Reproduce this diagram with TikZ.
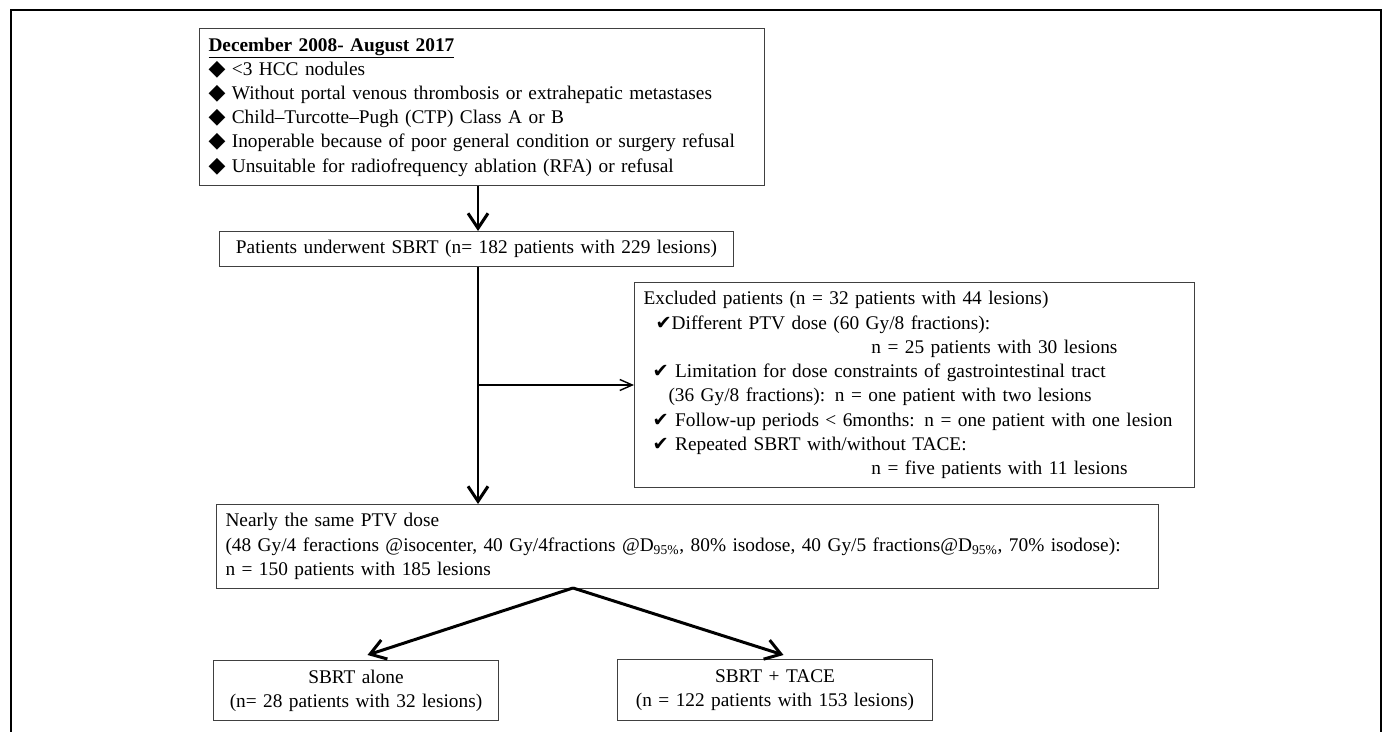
\documentclass[tikz,border=0pt]{standalone}
\usepackage{fontspec}
\setmainfont{Liberation Serif}
\newfontfamily\symfont{DejaVu Sans}
\usetikzlibrary{arrows.meta}
\newcommand\chk{{\symfont\fontsize{11}{11}\selectfont ✔}}
\newcommand\dmd{{\symfont\fontsize{12.5}{12.5}\selectfont ◆}}
\tikzset{
  box/.style={draw=black!75, line width=0.6pt, anchor=north west, inner xsep=0.18cm, inner ysep=0pt, font=\fontsize{11}{13.8}\selectfont},
  bigarrow/.style={line width=1.7pt, -{Straight Barb[length=0.3cm,width=0.4cm]}},
  smallarrow/.style={line width=0.8pt, -{Straight Barb[length=0.25cm,width=0.22cm]}}
}
\begin{document}
\begin{tikzpicture}[x=0.02cm, y=-0.02cm]
\useasboundingbox (0,0) rectangle (1383,732);
\draw[line width=1.6pt] (11,732) -- (11,10) -- (1381,10) -- (1381,732);
\node[box, text width=10.94cm, minimum height=3.14cm, align=left] (crit) at (199,28) {\underline{\textbf{December 2008- August 2017}}\\
\dmd\ <3 HCC nodules\\
\dmd\ Without portal venous thrombosis or extrahepatic metastases\\
\dmd\ Child–Turcotte–Pugh (CTP) Class A or B\\
\dmd\ Inoperable because of poor general condition or surgery refusal\\
\dmd\ Unsuitable for radiofrequency ablation (RFA) or refusal};
\node[box, text width=9.92cm, minimum height=0.7cm, align=center] (sbrt) at (219,231) {Patients underwent SBRT (n= 182 patients with 229 lesions)};
\node[box, text width=10.84cm, minimum height=4.1cm, align=left] (excl) at (634,282) {Excluded patients (n = 32 patients with 44 lesions)\\
\hspace*{0.24cm}\chk Different PTV dose (60 Gy/8 fractions):\\
\hspace*{4.56cm}n = 25 patients with 30 lesions\\
\hspace*{0.18cm}\chk\ Limitation for dose constraints of gastrointestinal tract\\
\hspace*{0.5cm}(36 Gy/8 fractions): n = one patient with two lesions\\
\hspace*{0.18cm}\chk\ Follow-up periods < 6months: n = one patient with one lesion\\
\hspace*{0.18cm}\chk\ Repeated SBRT with/without TACE:\\
\hspace*{4.56cm}n = five patients with 11 lesions};
\node[box, text width=18.48cm, minimum height=1.68cm, align=left] (same) at (216,504) {Nearly the same PTV dose\\
(48 Gy/4 feractions @isocenter, 40 Gy/4fractions @D\textsubscript{95\%}, 80\% isodose, 40 Gy/5 fractions@D\textsubscript{95\%}, 70\% isodose):\\
n = 150 patients with 185 lesions};
\node[box, text width=5.34cm, minimum height=1.2cm, align=center] (alone) at (213,660) {SBRT alone\\ (n= 28 patients with 32 lesions)};
\node[box, text width=5.94cm, minimum height=1.22cm, align=center] (tace) at (617,659) {SBRT + TACE\\ (n = 122 patients with 153 lesions)};
\coordinate (spine) at (478,0);
\coordinate (fork) at (573,588);
\draw[bigarrow] (crit.south -| spine) -- (sbrt.north -| spine);
\draw[bigarrow] (sbrt.south -| spine) -- (same.north -| spine);
\draw[smallarrow] (spine |- excl.west) -- (excl.west);
\draw[bigarrow] (fork) -- ([xshift=0.23cm,yshift=0.1cm]alone.north);
\draw[bigarrow] (fork) -- ([xshift=0.17cm,yshift=0.08cm]tace.north);
\end{tikzpicture}
\end{document}
